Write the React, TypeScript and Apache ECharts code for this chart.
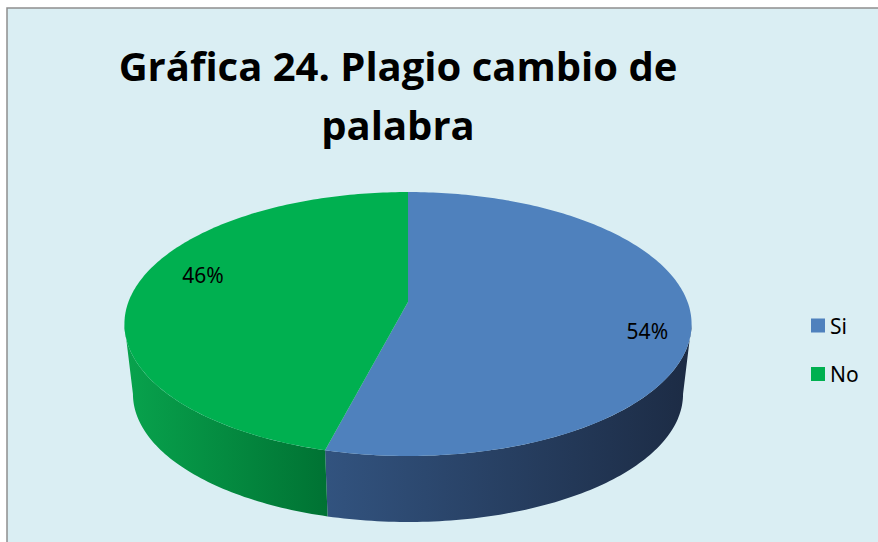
import React, { useEffect, useRef } from 'react';
import * as echarts from 'echarts';

// ---- Data ----
const categories: string[] = ['Si', 'No'];
const values: number[] = [54, 46];
const titleText = 'Gráfica 24. Plagio cambio de\npalabra';

// ---- Styles ----
const topColors = ['#4F81BD', '#00B050'];
const sideStops = [
  ['#32537F', '#1C2B44'],
  ['#08A34D', '#007233'],
];

// perspective pie geometry (screen px)
const K = 0.1667;
const TOP = { cx: 408, cy: 302, R: 279.6, Ry: 128.3 };
const BOT = { cx: 408, cy: 372.7, R: 271.2, Ry: 124.4 };

function project(theta: number, g: { cx: number; cy: number; R: number; Ry: number }, f = 1, fy = 1) {
  const u = Math.sin(theta) * f;
  const v = -Math.cos(theta) * fy;
  const s = 1 / (1 - K * v);
  return [g.cx + g.R * u * s, g.cy + g.Ry * v * s];
}

function arc(a0: number, a1: number, g: any) {
  const pts: number[][] = [];
  const n = Math.max(2, Math.ceil(Math.abs(a1 - a0) / (Math.PI / 180)));
  for (let i = 0; i <= n; i++) {
    pts.push(project(a0 + ((a1 - a0) * i) / n, g));
  }
  return pts;
}

export default function App() {
  const ref = useRef<HTMLDivElement>(null);
  useEffect(() => {
    if (!ref.current) return;
    const chart = echarts.init(ref.current, undefined, { renderer: 'svg' });
    const total = values.reduce((a, b) => a + b, 0);
    const starts: number[] = [];
    let acc = 0;
    values.forEach((v) => {
      starts.push(acc / total);
      acc += v;
    });
    const thMin = Math.acos(-K);
    const thMax = 2 * Math.PI - thMin;

    const makeRender = (idx: number) => (params: any, api: any) => {
      const a0 = starts[idx] * 2 * Math.PI;
      const a1 = (starts[idx] + values[idx] / total) * 2 * Math.PI;
      const children: any[] = [];
      const s0 = Math.max(a0, thMin);
      const s1 = Math.min(a1, thMax);
      if (s1 > s0) {
        const topArc = arc(s0, s1, TOP);
        const botArc = arc(s1, s0, BOT);
        const pts = topArc.concat(botArc);
        const xs = pts.map((p) => p[0]);
        const minX = Math.min(...xs);
        const maxX = Math.max(...xs);
        children.push({
          type: 'polygon',
          shape: { points: pts },
          style: {
            fill: new echarts.graphic.LinearGradient(minX, 0, maxX, 0, [
              { offset: 0, color: sideStops[idx][0] },
              { offset: 1, color: sideStops[idx][1] },
            ], true),
            stroke: null,
          },
        });
      }
      const topPts = [[TOP.cx, TOP.cy]].concat(arc(a0, a1, TOP));
      children.push({
        type: 'polygon',
        shape: { points: topPts },
        style: { fill: topColors[idx], stroke: null },
      });
      const mid = (a0 + a1) / 2;
      const lp = project(mid, TOP, 0.8, 1.75);
      const pct = Math.round((values[idx] / total) * 100) + '%';
      children.push({
        type: 'text',
        x: lp[0] + 9,
        y: lp[1],
        style: {
          text: pct,
          fill: '#000',
          fontSize: 21,
          fontFamily: 'Noto Sans',
          align: 'center',
          verticalAlign: 'middle',
        },
      });
      return { type: 'group', children };
    };

    chart.setOption({
      animation: false,
      backgroundColor: '#ffffff',
      color: topColors,
      title: {
        text: titleText,
        left: 398,
        top: 36,
        textAlign: 'center',
        padding: 0,
        textStyle: {
          fontFamily: 'Open Sans',
          fontWeight: 'bold',
          fontSize: 40,
          lineHeight: 59,
          color: '#000',
        },
      },
      legend: {
        data: categories,
        orient: 'vertical',
        left: 811,
        top: 315,
        itemWidth: 14,
        itemHeight: 14,
        itemGap: 27.5,
        icon: 'rect',
        padding: 0,
        textStyle: { fontFamily: 'Noto Sans', fontSize: 21, color: '#000', lineHeight: 21 },
      },
      graphic: [
        {
          type: 'rect',
          z: -100,
          silent: true,
          shape: { x: 7, y: 8, width: 900, height: 600 },
          style: { fill: '#DAEEF3', stroke: '#8E8E8E', lineWidth: 1.5 },
        },
      ],
      series: categories.map((name, i) => ({
        type: 'custom',
        name,
        coordinateSystem: 'none',
        data: [[values[i]]],
        itemStyle: { color: topColors[i] },
        renderItem: makeRender(i),
      })),
    });
    return () => chart.dispose();
  }, []);
  return (
    <div
      ref={ref}
      style={{ position: 'fixed', left: 0, top: 0, width: 878, height: 542, background: '#fff' }}
    />
  );
}
